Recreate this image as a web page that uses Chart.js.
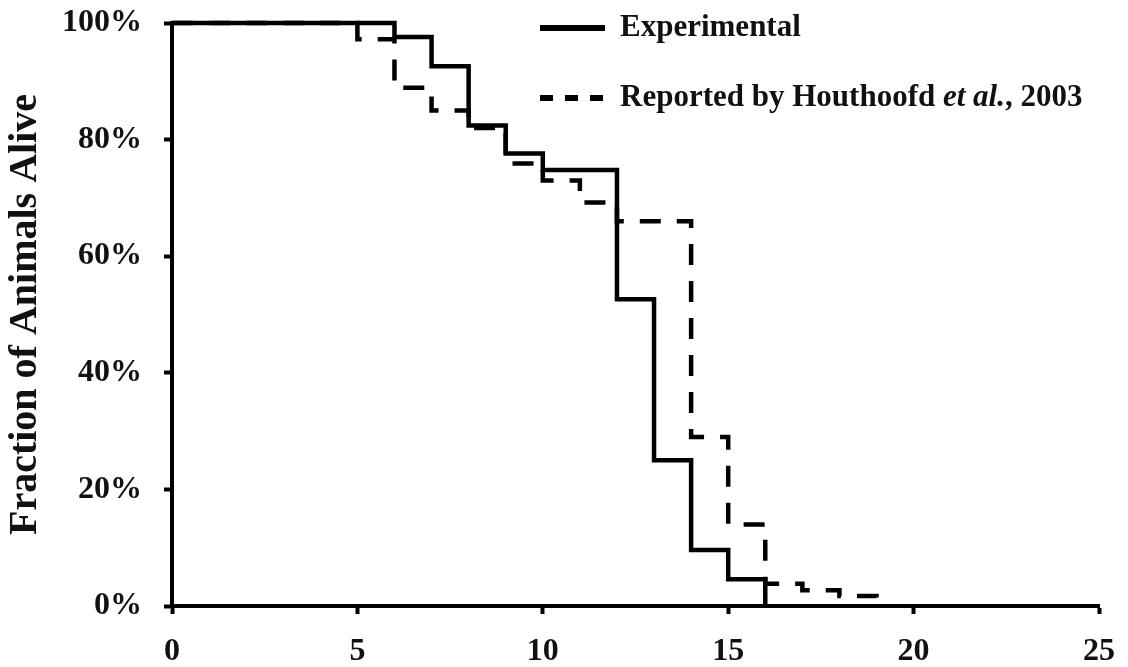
<!DOCTYPE html>
<html>
<head>
<meta charset="utf-8">
<title>Survival curves</title>
<script src="https://cdn.jsdelivr.net/npm/chart.js@4.4.1/dist/chart.umd.min.js"></script>
<style>
  html, body { margin: 0; padding: 0; background: #ffffff; }
  #wrap { width: 1128px; height: 667px; }
</style>
</head>
<body>
<div id="wrap"><canvas id="c" width="1128" height="667"></canvas></div>
<script>
// Survival (fraction alive, %) against age in days
const daysExperimental  = [0, 6, 7, 8, 9, 10, 12, 13, 14, 15, 16];
const aliveExperimental = [100, 97.6, 92.6, 82.4, 77.6, 74.8, 52.6, 25.0, 9.6, 4.6, 0];

const daysReported  = [0, 5, 6, 7, 8, 9, 10, 11, 12, 14, 15, 16, 17, 18, 19];
const aliveReported = [100, 97.2, 88.9, 85.0, 82.0, 75.9, 73.0, 69.2, 66.0, 29.0, 14.0, 3.8, 2.7, 1.7, 0];

const xTicks = [0, 5, 10, 15, 20, 25];
const yTicks = [0, 20, 40, 60, 80, 100];

const seriesNames = ['Experimental', 'Reported by Houthoofd ', 'et al.', ', 2003'];
const yTitle = 'Fraction of Animals Alive';

const SERIF = '"Liberation Serif", "Times New Roman", serif';

function toPoints(xs, ys) {
  return xs.map((x, i) => ({ x: x, y: ys[i] }));
}

// Hand-drawn legend in the upper right
const legendPlugin = {
  id: 'cornerLegend',
  afterDraw(chart) {
    const ctx = chart.ctx;
    ctx.save();
    ctx.strokeStyle = '#000';
    ctx.fillStyle = '#111';
    ctx.lineCap = 'butt';

    // solid sample
    ctx.lineWidth = 6;
    ctx.beginPath();
    ctx.moveTo(540, 28);
    ctx.lineTo(605, 28);
    ctx.stroke();

    // dashed sample
    ctx.setLineDash([13, 12]);
    ctx.beginPath();
    ctx.moveTo(540, 98);
    ctx.lineTo(606, 98);
    ctx.stroke();
    ctx.setLineDash([]);

    ctx.textBaseline = 'middle';
    ctx.textAlign = 'left';
    ctx.font = 'bold 31px ' + SERIF;
    ctx.fillText(seriesNames[0], 620, 28);

    let x = 620;
    const y2 = 98;
    ctx.font = 'bold 31px ' + SERIF;
    ctx.fillText(seriesNames[1], x, y2);
    x += ctx.measureText(seriesNames[1]).width;
    ctx.font = 'italic bold 31px ' + SERIF;
    ctx.fillText(seriesNames[2], x, y2);
    x += ctx.measureText(seriesNames[2]).width;
    ctx.font = 'bold 31px ' + SERIF;
    ctx.fillText(seriesNames[3], x, y2);
    ctx.restore();
  }
};

const whiteBg = {
  id: 'whiteBg',
  beforeDraw(chart) {
    const ctx = chart.ctx;
    ctx.save();
    ctx.fillStyle = '#ffffff';
    ctx.fillRect(0, 0, chart.width, chart.height);
    ctx.restore();
  }
};

new Chart(document.getElementById('c'), {
  type: 'line',
  data: {
    datasets: [
      {
        label: 'Experimental',
        data: toPoints(daysExperimental, aliveExperimental),
        stepped: 'before',
        borderColor: '#000',
        borderWidth: 4.5,
        pointRadius: 0,
        fill: false,
        clip: false
      },
      {
        label: 'Reported by Houthoofd et al., 2003',
        data: toPoints(daysReported, aliveReported),
        stepped: 'before',
        borderColor: '#000',
        borderWidth: 4.5,
        borderDash: [21, 16],
        pointRadius: 0,
        fill: false,
        clip: false
      }
    ]
  },
  options: {
    responsive: false,
    animation: false,
    layout: { padding: { top: 23, right: 29, left: 0, bottom: 0 } },
    plugins: {
      legend: { display: false },
      tooltip: { enabled: false }
    },
    scales: {
      x: {
        type: 'linear',
        min: 0,
        max: 25,
        afterBuildTicks(scale) { scale.ticks = xTicks.map(v => ({ value: v })); },
        afterFit(scale) {
          scale.height = 61;
          scale.paddingLeft = 0;
          scale.paddingRight = 0;
        },
        grid: {
          display: true,
          drawOnChartArea: false,
          drawTicks: true,
          tickLength: 8,
          tickWidth: 4,
          tickColor: '#000'
        },
        border: { display: true, color: '#000', width: 4 },
        ticks: {
          color: '#111',
          padding: 19,
          maxRotation: 0,
          font: { family: SERIF, size: 32, weight: 'bold' }
        }
      },
      y: {
        type: 'linear',
        min: 0,
        max: 100,
        afterBuildTicks(scale) { scale.ticks = yTicks.map(v => ({ value: v })); },
        afterFit(scale) {
          scale.width = 172;
          scale.paddingTop = 0;
          scale.paddingBottom = 0;
        },
        grid: {
          display: true,
          drawOnChartArea: false,
          drawTicks: true,
          tickLength: 8,
          tickWidth: 4,
          tickColor: '#000'
        },
        border: { display: true, color: '#000', width: 4 },
        ticks: {
          color: '#111',
          padding: 22,
          font: { family: SERIF, size: 32, weight: 'bold' },
          callback: v => v + '%'
        },
        title: {
          display: true,
          text: yTitle,
          color: '#111',
          padding: { top: 2, bottom: 0 },
          font: { family: SERIF, size: 40, weight: 'bold' }
        }
      }
    }
  },
  plugins: [whiteBg, legendPlugin]
});
</script>
</body>
</html>
